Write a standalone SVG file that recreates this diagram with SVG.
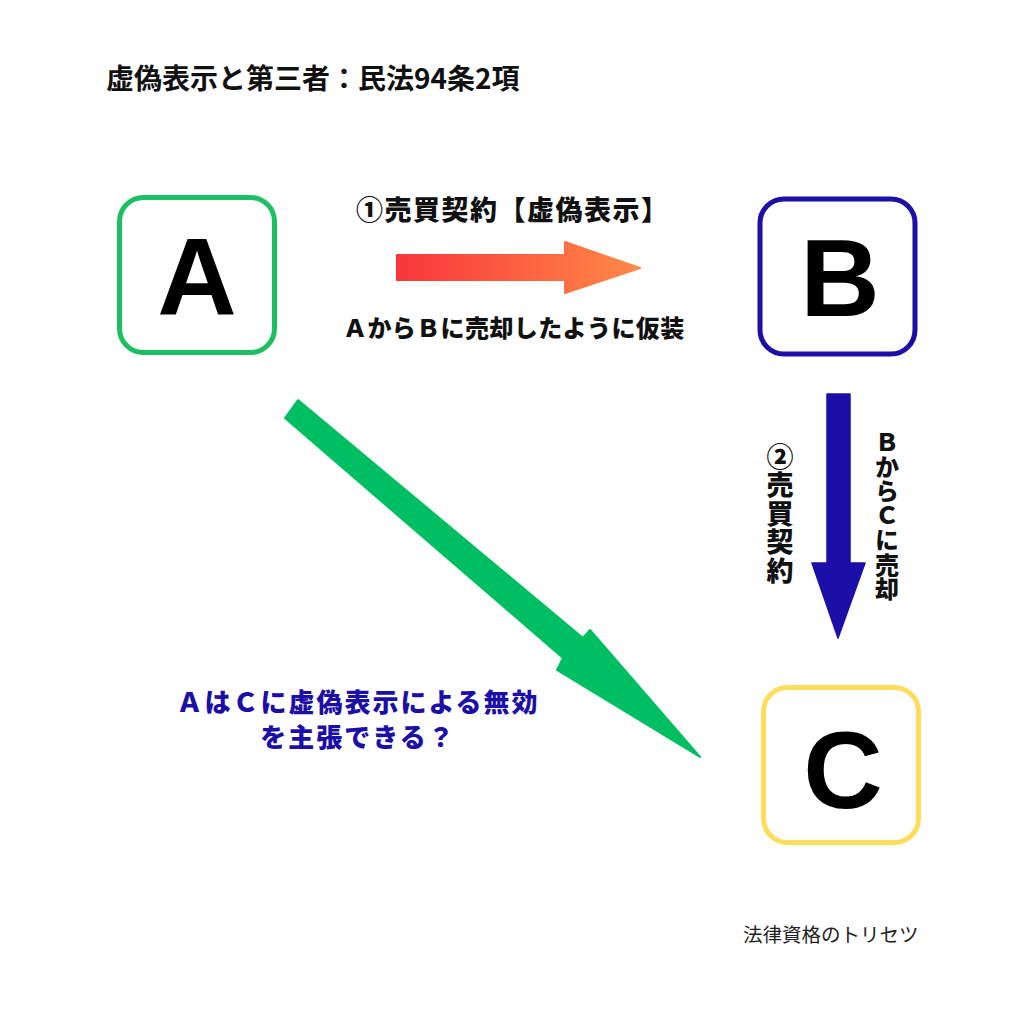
<svg xmlns="http://www.w3.org/2000/svg" width="1024" height="1024" viewBox="0 0 1024 1024">
<defs>
<linearGradient id="redgrad" x1="0" y1="0" x2="1" y2="0">
<stop offset="0" stop-color="#F8363A"/>
<stop offset="1" stop-color="#FF8A48"/>
</linearGradient>
<style>
.jp{font-family:"Noto Sans CJK JP","Noto Sans CJK SC",sans-serif;font-weight:700;}
.hv{font-weight:900;}
.box{fill:#fff;stroke-width:5;}
.big{font-family:"Liberation Sans",Arial,sans-serif;font-weight:700;font-size:110px;fill:#000;text-anchor:middle;}
.vert{writing-mode:vertical-rl;text-orientation:upright;}
</style>
</defs>
<rect width="1024" height="1024" fill="#fff"/>
<text class="jp" x="106" y="89" font-size="28" fill="#111">虚偽表示と第三者：民法94条2項</text>
<g id="nodeA">
<rect class="box" x="119.5" y="197.5" width="155" height="155" rx="24" stroke="#1DBF63"/>
<text class="big" x="197" y="314">A</text>
</g>
<g id="nodeB">
<rect class="box" x="760" y="199" width="155" height="155" rx="24" stroke="#1B0FA8"/>
<text class="big" x="840" y="316">B</text>
</g>
<g id="nodeC">
<rect class="box" x="763.5" y="687.5" width="155" height="155" rx="24" stroke="#FFDD5C"/>
<text class="big" x="843" y="808">C</text>
</g>
<g id="connectors">
<path d="M397,255 L565,255 L565,242 L640,268 L565,293 L565,280 L397,280 Z" fill="url(#redgrad)" stroke="url(#redgrad)" stroke-width="2" stroke-linejoin="round"/>
<path d="M827,394 L850,394 L850,563 L865,563 L838,638 L812,563 L827,563 Z" fill="#1B0FA8" stroke="#1B0FA8" stroke-width="1.5" stroke-linejoin="round"/>
<path d="M298,400 L583,638 L590,630 L700,757 L557,670 L563,658 L285,418 Z" fill="#00BF63" stroke="#00BF63" stroke-width="2" stroke-linejoin="round"/>
</g>
<g id="labels">
<text class="jp hv" x="356" y="220" font-size="27" letter-spacing="1.5" fill="#111">①売買契約【虚偽表示】</text>
<text class="jp hv" x="343" y="337" font-size="24" letter-spacing="0.4" fill="#111">ＡからＢに売却したように仮装</text>
<text class="jp hv vert" x="780" y="443" font-size="27" letter-spacing="1.5" fill="#111">②売買契約</text>
<text class="jp hv vert" x="887" y="430" font-size="24" letter-spacing="0.5" fill="#111">ＢからＣに売却</text>
<text class="jp hv" x="358" y="712" font-size="26" letter-spacing="2" fill="#1B0FA8" text-anchor="middle">ＡはＣに虚偽表示による無効</text>
<text class="jp hv" x="358" y="747" font-size="26" letter-spacing="2" fill="#1B0FA8" text-anchor="middle">を主張できる？</text>
<text x="743" y="942" font-family="Noto Sans CJK JP, sans-serif" font-size="19.5" fill="#222">法律資格のトリセツ</text>
</g>
</svg>
